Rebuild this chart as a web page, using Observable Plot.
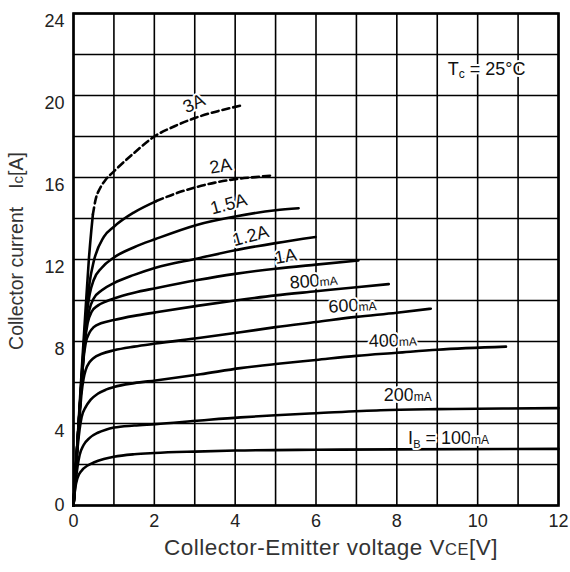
<!DOCTYPE html>
<html><head><meta charset="utf-8">
<script src="https://cdn.jsdelivr.net/npm/d3@7"></script>
<script src="https://cdn.jsdelivr.net/npm/@observablehq/plot@0.6"></script>
<style>body{margin:0;background:#fff} #chart svg{display:block}</style>
</head><body><div id="chart"></div>
<script>
// ---- tick labels and grid positions ----
const vceTicks = [0, 2, 4, 6, 8, 10, 12];
const icTicks = [0, 4, 8, 12, 16, 20, 24];
const vceGrid = [0,1,2,3,4,5,6,7,8,9,10,11,12];
const icGrid = [0,2,4,6,8,10,12,14,16,18,20,22,24];

// ---- curves: [Vce (V), Ic (A)] ----
const ib3A_solid = [[0,0],[0.1,3.2],[0.2,6.5],[0.3,9.6],[0.38,12],[0.44,13.4],[0.48,14.2]];
const ib3A_dash  = [[0.48,14.2],[0.55,14.95],[0.65,15.45],[0.8,15.9],[1.0,16.3],[1.5,17.2],[2.0,18.0],[2.5,18.5],[3.0,18.9],[3.5,19.2],[4.13,19.5]];
const ib2A_solid = [[0,0],[0.1,3.1],[0.2,6.2],[0.3,9.0],[0.4,10.9],[0.5,11.9],[0.75,13.1],[1.0,13.6],[1.5,14.3],[2.05,14.85]];
const ib2A_dash  = [[2.05,14.85],[2.5,15.2],[3.07,15.55],[3.5,15.75],[4.0,15.92],[4.5,16.02],[4.93,16.1]];
const ib1_5A  = [[0,0],[0.1,3.1],[0.2,6.1],[0.3,8.8],[0.4,10.3],[0.5,11.0],[0.7,11.6],[1.0,12.1],[1.5,12.6],[2.03,13.0],[3.07,13.7],[4.0,14.1],[5.0,14.4],[5.57,14.5]];
const ib1_2A  = [[0,0],[0.1,3.1],[0.2,6.0],[0.3,8.5],[0.4,9.6],[0.5,10.1],[0.7,10.5],[1.0,10.85],[1.5,11.25],[2.03,11.6],[3.07,12.05],[4.0,12.45],[5.0,12.8],[5.99,13.1]];
const ib1A    = [[0,0],[0.1,3.1],[0.2,6.0],[0.27,7.8],[0.35,8.9],[0.45,9.45],[0.6,9.75],[0.8,9.95],[1.0,10.1],[1.5,10.38],[2.03,10.6],[3.07,11.0],[4.0,11.3],[5.0,11.55],[6.0,11.75],[7.05,11.95]];
const ib800mA = [[0,0],[0.05,1.6],[0.1,3.1],[0.15,4.6],[0.2,6.0],[0.25,7.2],[0.3,7.9],[0.4,8.45],[0.5,8.7],[0.7,8.9],[1.0,9.05],[1.5,9.25],[2.03,9.42],[3.1,9.75],[4.0,10.0],[5.0,10.25],[6.0,10.45],[7.0,10.65],[7.8,10.8]];
const ib600mA = [[0,0],[0.05,1.6],[0.1,3.0],[0.15,4.3],[0.2,5.5],[0.25,6.2],[0.3,6.6],[0.4,7.0],[0.5,7.2],[0.7,7.4],[1.0,7.57],[1.5,7.75],[2.03,7.9],[3.14,8.18],[4.13,8.45],[5,8.7],[6,8.95],[7,9.2],[8,9.4],[8.84,9.6]];
const ib400mA = [[0,0],[0.05,1.6],[0.1,2.8],[0.15,3.7],[0.2,4.3],[0.3,4.8],[0.42,5.15],[0.6,5.45],[0.8,5.65],[1.0,5.78],[1.5,5.97],[2.03,6.1],[3.14,6.4],[4.13,6.7],[5,6.9],[6,7.1],[7,7.3],[8,7.45],[9,7.6],[10.7,7.75]];
const ib200mA = [[0,0],[0.05,1.1],[0.1,1.9],[0.15,2.45],[0.25,2.95],[0.4,3.3],[0.6,3.55],[0.8,3.7],[1.0,3.8],[1.5,3.9],[2.03,3.97],[3.14,4.15],[4.13,4.3],[5,4.4],[6,4.5],[7.6,4.65],[9,4.7],[10,4.72],[12,4.75]];
const ib100mA = [[0,0],[0.04,0.8],[0.1,1.35],[0.2,1.7],[0.35,1.95],[0.5,2.1],[0.75,2.27],[1.0,2.38],[1.5,2.5],[2.0,2.56],[3,2.63],[4,2.68],[6,2.72],[8,2.74],[12,2.76]];

// ---- curve labels ----
const labelText = ["3A","2A","1.5A","1.2A","1A","800mA","600mA","400mA","200mA","IB = 100mA","Tc = 25°C"];
const labelV    = [2.98, 3.64, 3.84, 4.38, 5.25, 5.94, 6.9, 7.9, 8.27, 9.28, 10.22];
const labelI    = [19.6, 16.55, 14.7, 13.15, 12.15, 10.95, 9.75, 8.05, 5.37, 3.3, 21.3];
const labelRot  = [-25, -10, -15, -15, -10, -5, -3, -2, 0, 0, 0];

const solidSeries = {"3A": ib3A_solid, "2A": ib2A_solid, "1.5A": ib1_5A, "1.2A": ib1_2A, "1A": ib1A,
  "800mA": ib800mA, "600mA": ib600mA, "400mA": ib400mA, "200mA": ib200mA, "100mA": ib100mA};
const dashedSeries = {"3A": ib3A_dash, "2A": ib2A_dash};
const toRows = (obj) => Object.entries(obj).flatMap(([s, pts]) => pts.map(([v, i]) => ({s, v, i})));
const solidRows = toRows(solidSeries);
const dashedRows = toRows(dashedSeries);
const labels = labelText.map((t, k) => ({t, v: labelV[k], i: labelI[k], r: labelRot[k]}));

const chart = Plot.plot({
  width: 570, height: 572,
  marginLeft: 73, marginRight: 12, marginTop: 13, marginBottom: 67,
  style: {fontFamily: "'Liberation Sans', Arial, sans-serif", fontSize: "18px", color: "#222", background: "#fff"},
  x: {domain: [0, 12], ticks: vceTicks, tickSize: 0, tickPadding: 9, label: null},
  y: {domain: [0, 24], ticks: icTicks, tickSize: 0, tickPadding: 9, label: null},
  marks: [
    Plot.ruleX(vceGrid, {stroke: "#000", strokeWidth: 1.6}),
    Plot.ruleY(icGrid, {stroke: "#000", strokeWidth: 1.6}),
    Plot.frame({stroke: "#000", strokeWidth: 2.6}),
    Plot.line(solidRows, {x: "v", y: "i", z: "s", curve: "monotone-x", stroke: "#000", strokeWidth: 2.6}),
    Plot.line(dashedRows, {x: "v", y: "i", z: "s", curve: "monotone-x", stroke: "#000", strokeWidth: 2.6, strokeDasharray: "7,4"}),
    Plot.text(labels, {x: "v", y: "i", text: "t", rotate: "r", fontSize: 18, fill: "#111", stroke: "#fff", strokeWidth: 4, paintOrder: "stroke"})
  ]
});
document.getElementById("chart").appendChild(chart);

const svg = d3.select(chart);
// y tick labels sit slightly below their grid lines in the reference (the 0 sits above)
svg.selectAll("g[aria-label='y-axis tick label'] text").each(function() {
  d3.select(this).attr("dy", this.textContent === "0" ? "0.0em" : "0.45em");
});

// subscripts / small units as tspans
svg.selectAll("text").each(function() {
  const t = this.textContent;
  const el = d3.select(this);
  const parts = [];
  if (t === "IB = 100mA") {
    parts.push(["I", null, 0], ["B", 11, 4], [" = 100", null, -4], ["mA", 12, 0]);
  } else if (t === "Tc = 25°C") {
    parts.push(["T", null, 0], ["c", 12, 3], [" = 25°C", null, -3]);
  } else if (/^\d+mA$/.test(t)) {
    parts.push([t.replace("mA", ""), null, 0], ["mA", 12, 0]);
  } else return;
  el.text(null);
  for (const [s, fs, dy] of parts) {
    const ts = el.append("tspan").text(s);
    if (fs) ts.attr("font-size", fs);
    if (dy) ts.attr("dy", dy);
  }
});

// axis titles
const xt = svg.append("text").attr("x", 331).attr("y", 555)
  .attr("text-anchor", "middle").attr("font-size", 22.5).attr("letter-spacing", 0.5).attr("fill", "#333")
  .attr("font-family", "'Liberation Sans', Arial, sans-serif");
xt.append("tspan").text("Collector-Emitter voltage V");
xt.append("tspan").attr("font-size", 16.5).text("CE");
xt.append("tspan").text("[V]");

const yt = svg.append("text").attr("transform", "translate(23,251) rotate(-90)")
  .attr("text-anchor", "middle").attr("font-size", 19.5).attr("fill", "#333")
  .attr("font-family", "'Liberation Sans', Arial, sans-serif");
yt.append("tspan").text("Collector current");
yt.append("tspan").attr("dx", 18).text("I");
yt.append("tspan").attr("font-size", 15).text("c");
yt.append("tspan").text("[A]");
</script>
</body></html>
